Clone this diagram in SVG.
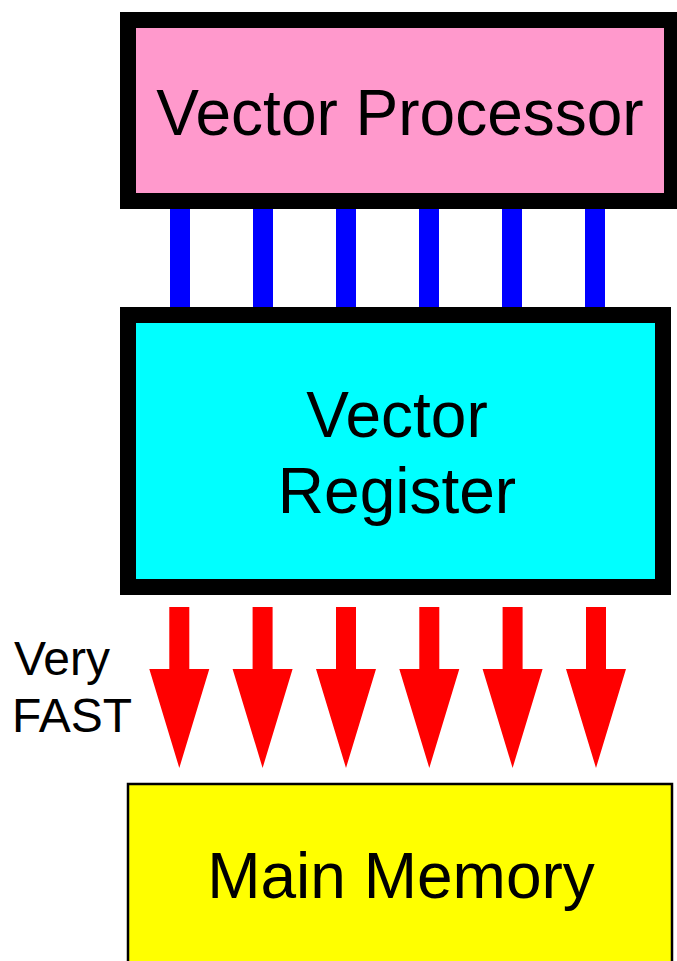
<svg xmlns="http://www.w3.org/2000/svg" width="677" height="961" viewBox="0 0 677 961">
<defs>
<style>
.box{stroke:#000;stroke-width:16}
.lbl{font-family:"Liberation Sans",Arial,sans-serif;font-size:64px;fill:#000;text-anchor:middle}
.side{font-family:"Liberation Sans",Arial,sans-serif;font-size:48px;fill:#000}
.bus{fill:#0000FF}
.arrow{fill:#FF0000}
</style>
<polygon id="arr" class="arrow" points="-10,607 10,607 10,669 30,669 0,768 -30,669 -10,669"/>
</defs>
<rect width="677" height="961" fill="#fff"/>
<g id="connectors">
<g id="bus">
<rect class="bus" x="170" y="205" width="20" height="106"/>
<rect class="bus" x="253" y="205" width="20" height="106"/>
<rect class="bus" x="336" y="205" width="20" height="106"/>
<rect class="bus" x="419" y="205" width="20" height="106"/>
<rect class="bus" x="502" y="205" width="20" height="106"/>
<rect class="bus" x="585" y="205" width="20" height="106"/>
</g>
<g id="fast-arrows">
<use href="#arr" x="179.3"/>
<use href="#arr" x="262.6"/>
<use href="#arr" x="346"/>
<use href="#arr" x="429.3"/>
<use href="#arr" x="512.6"/>
<use href="#arr" x="596"/>
</g>
</g>
<g id="vector-processor">
<rect class="box" x="128" y="20" width="544" height="181" fill="#FF99CC"/>
<text class="lbl" x="400" y="135">Vector Processor</text>
</g>
<g id="vector-register">
<rect class="box" x="128" y="315" width="535" height="272" fill="#00FFFF"/>
<text class="lbl" x="397" y="437">Vector</text>
<text class="lbl" x="397" y="513">Register</text>
</g>
<g id="main-memory">
<rect x="128" y="784" width="544" height="200" fill="#FFFF00" stroke="#000" stroke-width="2.5"/>
<text class="lbl" x="401" y="898">Main Memory</text>
</g>
<g id="speed-label">
<text class="side" x="14" y="675">Very</text>
<text class="side" x="12" y="732">FAST</text>
</g>
</svg>
